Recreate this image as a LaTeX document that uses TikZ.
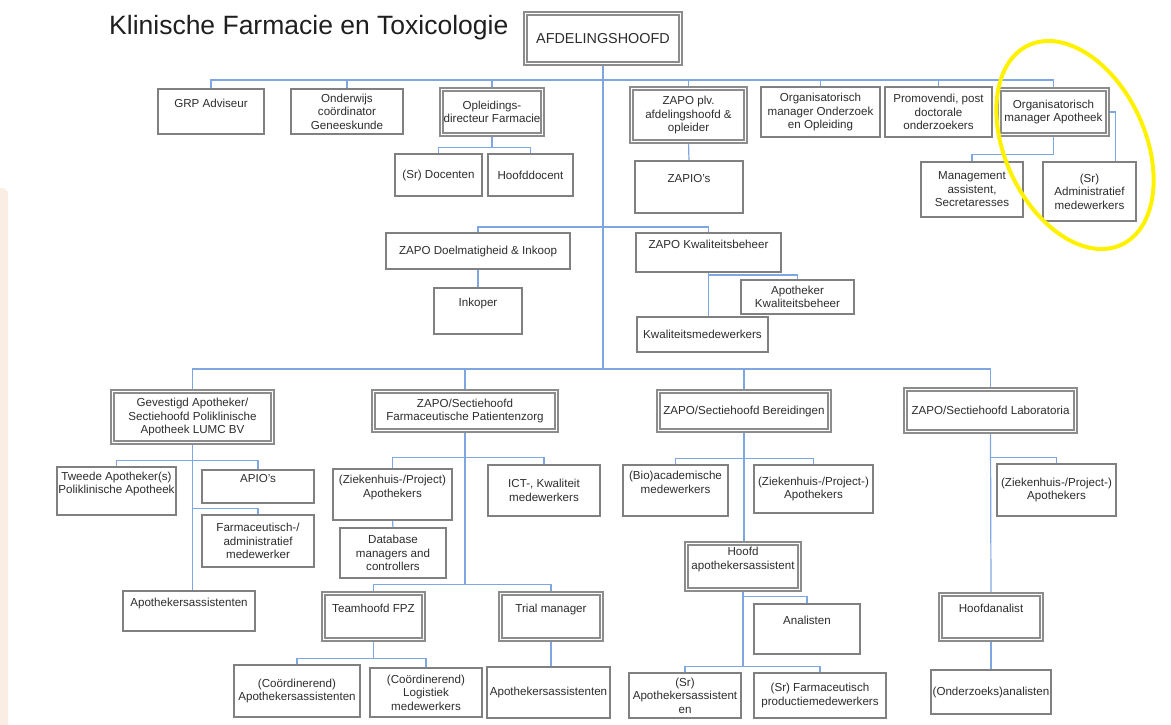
\documentclass[tikz,border=0pt]{standalone}
\usepackage{fontspec}
\setmainfont{Liberation Sans}
\usetikzlibrary{backgrounds}

\definecolor{boxgray}{RGB}{128,128,128}
\definecolor{dblgray}{RGB}{140,140,140}
\definecolor{linkblue}{RGB}{126,166,224}
\definecolor{txtgray}{RGB}{45,45,45}
\definecolor{peach}{RGB}{250,238,228}

% extra empty line: lifts the text towards the top of its box
\newcommand{\pushup}{\\[3pt]\mbox{}}

\tikzset{
  box/.style={draw=boxgray, line width=1.2, fill=white, align=center, inner sep=0, outer sep=0,
    text=txtgray, font=\fontsize{11.6}{13.5}\selectfont},
  dbox/.style={box, draw=dblgray, double=white, double distance=1.5, line width=1.6},
  sz/.style 2 args={minimum width=#1, minimum height=#2},
  conn/.style={draw=linkblue, line width=1.2},
  hilite/.style={draw=yellow, line width=4},
}

\begin{document}
\begin{tikzpicture}[x=1pt, y=-1pt]
  \useasboundingbox (0,0) rectangle (1171,724);

  \node[name=title, anchor=west, inner sep=0, text=black!88, font=\fontsize{26.5}{30}\selectfont] at (109,28) {Klinische Farmacie en Toxicologie};

  % top row
  \node[dbox, sz={155}{50}, name=afd, font=\fontsize{14.4}{16}\selectfont] at (603,38.5) {AFDELINGSHOOFD};
  \node[box, sz={106}{45}, name=grp] at (211,111.5) {GRP Adviseur\pushup};
  \node[box, sz={112}{45}, name=ond] at (347,111.5) {Onderwijs\\coördinator\\Geneeskunde};
  \node[dbox, sz={101}{45}, name=opl] at (492,112) {Opleidings-\\directeur Farmacie};
  \node[dbox, sz={114}{53}, name=zpl] at (688.5,115) {ZAPO plv.\\afdelingshoofd \&\\opleider};
  \node[box, sz={119}{50}, name=oon] at (820.5,112) {Organisatorisch\\manager Onderzoek\\en Opleiding};
  \node[box, sz={107}{50}, name=pro] at (938.5,112) {Promovendi, post\\doctorale\\onderzoekers};
  \node[dbox, sz={108}{45}, name=oma] at (1053.5,112) {Organisatorisch\\manager Apotheek};
  \node[box, sz={87}{42}, name=doc] at (438.5,175) {(Sr) Docenten};
  \node[box, sz={85}{42}, name=hdo] at (530.5,175) {Hoofddocent};
  \node[box, sz={108}{52}, name=zap] at (689,187) {ZAPIO's\pushup};
  \node[box, sz={102}{55}, name=mas] at (972,189.5) {Management\\assistent,\\Secretaresses};
  \node[box, sz={93}{59}, name=adm] at (1089.5,191.5) {(Sr)\\Administratief\\medewerkers};

  % middle
  \node[box, sz={184}{36}, name=zdi] at (478,251) {ZAPO Doelmatigheid \& Inkoop};
  \node[box, sz={145}{39}, name=zkb] at (708.5,252.5) {ZAPO Kwaliteitsbeheer\pushup};
  \node[box, sz={88}{46}, name=ink] at (478,311) {Inkoper\pushup};
  \node[box, sz={113}{34}, name=akb] at (797.5,297) {Apotheker\\Kwaliteitsbeheer};
  \node[box, sz={131}{35}, name=kmw] at (702.5,334.5) {Kwaliteitsmedewerkers};

  % sections
  \node[dbox, sz={160}{51}, name=gev] at (192.5,417) {Gevestigd Apotheker/\\Sectiehoofd Poliklinische\\Apotheek LUMC BV};
  \node[dbox, sz={183}{39}, name=fpz] at (465,411) {ZAPO/Sectiehoofd\\Farmaceutische Patientenzorg};
  \node[dbox, sz={171}{39}, name=ber] at (744,411) {ZAPO/Sectiehoofd Bereidingen};
  \node[dbox, sz={170}{42}, name=lab] at (990.5,410.5) {ZAPO/Sectiehoofd Laboratoria};

  % poliklinische apotheek
  \node[box, sz={119}{48}, name=twa] at (116.5,491) {Tweede Apotheker(s)\\Poliklinische Apotheek\pushup};
  \node[box, sz={112}{33}, name=api] at (258,486.5) {APIO's\pushup};
  \node[box, sz={112}{52}, name=fam] at (258,541) {Farmaceutisch-/\\administratief\\medewerker};
  \node[box, sz={132}{40}, name=aa1] at (189,611) {Apothekersassistenten\pushup};

  % patientenzorg
  \node[box, sz={119}{51}, name=zpa] at (392.5,494.5) {(Ziekenhuis-/Project)\\Apothekers\pushup};
  \node[box, sz={106}{50}, name=dbm] at (393,553) {Database\\managers and\\controllers};
  \node[box, sz={112}{51}, name=ict] at (544,490.5) {ICT-, Kwaliteit\\medewerkers};
  \node[dbox, sz={100}{46}, name=tfp] at (373.5,616.5) {Teamhoofd FPZ\pushup};
  \node[dbox, sz={101}{46}, name=trm] at (551,616.5) {Trial manager\pushup};
  \node[box, sz={126}{52}, name=caa] at (297,691) {(Coördinerend)\\Apothekersassistenten};
  \node[box, sz={112}{49}, name=clm] at (426,692.5) {(Coördinerend)\\Logistiek\\medewerkers};
  \node[box, sz={123}{51}, name=aa2] at (548.5,692.5) {Apothekersassistenten};

  % bereidingen
  \node[box, sz={105}{51}, name=bio] at (675.5,490.5) {(Bio)academische\\medewerkers\pushup};
  \node[box, sz={119}{48}, name=zpb] at (813.5,489) {(Ziekenhuis-/Project-)\\Apothekers};
  \node[dbox, sz={113}{46}, name=hfa] at (743,566.5) {Hoofd\\apothekersassistent\pushup};
  \node[box, sz={106}{50}, name=ana] at (807,629) {Analisten\pushup};
  \node[box, sz={112}{45}, name=saa] at (685,695.5) {(Sr)\\Apothekersassistent\\en};
  \node[box, sz={132}{45}, name=sfp] at (820,695.5) {(Sr) Farmaceutisch\\productiemedewerkers};

  % laboratoria
  \node[box, sz={119}{52}, name=zpc] at (1056.5,490) {(Ziekenhuis-/Project-)\\Apothekers};
  \node[dbox, sz={101}{45}, name=hda] at (991,617) {Hoofdanalist\pushup};
  \node[box, sz={120}{44}, name=ona] at (991,692) {(Onderzoeks)analisten};

  \begin{scope}[on background layer]
    \fill[peach, rounded corners=6] (-8,188) rectangle (8,735);
    \coordinate (b1) at (603,80);
    \coordinate (b2) at (603,227);
    \coordinate (b3) at (603,369);

    \draw[conn] (afd.south) -- (b3);
    \foreach \n in {grp,ond,opl,zpl,oon,pro,oma}
      \draw[conn] (b1) -| (\n.north);
    \foreach \n in {zdi,zkb}
      \draw[conn] (b2) -| (\n.north);
    \foreach \n in {gev,fpz,ber,lab}
      \draw[conn] (b3) -| (\n.north);

    \foreach \n in {doc,hdo}
      \draw[conn] (opl.south) -- ++(0,13) -| (\n.north);
    \draw[conn] (zpl.south) -- (zap.north);
    \draw[conn] (oma.south) -- ++(0,20) -| (mas.north);
    \draw[conn] (oma.east) -- ++(8,0) coordinate (k1) -- (k1 |- adm.north);

    \draw[conn] (zdi.south) -- (ink.north);
    \draw[conn] (zkb.south) -- (zkb.south |- kmw.north);
    \draw[conn] (zkb.south) -- ++(0,3) -| (akb.north);

    \draw[conn] (gev.south) -- (gev.south |- aa1.north);
    \foreach \n in {twa,api}
      \draw[conn] (gev.south) -- ++(0,18) -| (\n.north);
    \draw[conn] (gev.south) -- ++(0,66) -| (fam.north);

    \foreach \n in {zpa,ict}
      \draw[conn] (fpz.south) -- ++(0,27) -| (\n.north);
    \foreach \n in {tfp,trm}
      \draw[conn] (fpz.south) -- ++(0,154) -| (\n.north);
    \draw[conn] (zpa.south) -- (dbm.north);
    \foreach \n in {caa,clm}
      \draw[conn] (tfp.south) -- ++(0,19) -| (\n.north);
    \draw[conn] (trm.south) -- (trm.south |- aa2.north);

    \foreach \n in {bio,zpb}
      \draw[conn] (ber.south) -- ++(0,28) -| (\n.north);
    \draw[conn] (ber.south) -- (ber.south |- hfa.north);
    \draw[conn] (hfa.south) -- ++(0,7) -| (ana.north);
    \foreach \n in {saa,sfp}
      \draw[conn] (hfa.south) -- ++(0,77) -| (\n.north);

    \draw[conn] (lab.south) -- ++(0,26) -| (zpc.north);
    \draw[conn] (lab.south) -- (hda.north);
    \draw[conn] (hda.south) -- (ona.north);
  \end{scope}

  \draw[hilite, rotate around={25:(1075,145)}] (1075,145) ellipse [x radius=70, y radius=110];
\end{tikzpicture}
\end{document}
